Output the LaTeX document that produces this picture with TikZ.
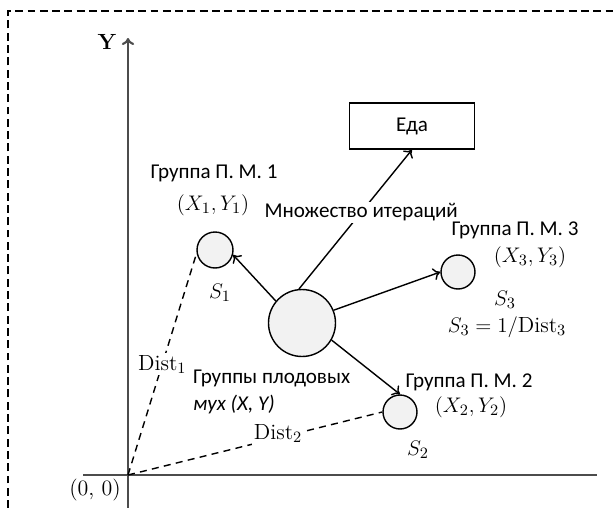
\documentclass[tikz,border=0pt]{standalone}
\usepackage{amsmath}
\usepackage{fontspec}
\usetikzlibrary{arrows.meta}
\newfontfamily\ruf{Carlito}

\tikzset{
    grp/.style={circle, draw, thick, fill=gray!10, inner sep=0pt},
    lbl/.style={font=\ruf\fontsize{12}{15.5}\selectfont},
    mth/.style={font=\fontsize{12.5}{14}\selectfont},
    dist/.style={thick, dash pattern=on 4pt off 3pt},
}

\begin{document}
\begin{tikzpicture}[x=0.02cm, y=-0.02cm, >={To[length=4pt, width=7pt]}]
    \useasboundingbox (0,0) rectangle (613,508);

    % 虚线外框（右边和下边被裁掉）
    \draw[semithick, dash pattern=on 4.5pt off 2.5pt] (8,508) -- (8,11) -- (613,11);

    % 画坐标轴
    \coordinate (O) at (128,475);
    \draw[very thick, black!70] (83,475) -- (597,475);
    \draw[very thick, black!70, ->] (128,508) -- (128,38);
    \node[mth] (ylab) at (107,42) {\textbf{Y}};
    \node[mth] (olab) at (95,490) {(0, 0)};

    % 果蝇群（圆）
    \node[grp, minimum size=1.34cm] (big) at (302,323) {};
    \node[grp, minimum size=0.72cm] (s1) at (215,250) {};
    \node[grp, minimum size=0.68cm] (s3) at (458,272) {};
    \node[grp, minimum size=0.68cm] (s2) at (400,412) {};

    % 食物
    \node[draw, thick, minimum width=2.5cm, minimum height=0.92cm, lbl] (food) at (412,126) {Еда};

    % 箭头
    \draw[->, thick] (big.140) -- (s1.-15);
    \draw[->, thick] (big.22) -- (s3.west);
    \draw[->, thick] (big.-30) -- (s2.north);
    \draw[->, thick] (big.95) -- (food.south)
        node[pos=0.55, lbl, fill=white, inner sep=1pt] (iter) {Множество итераций};

    % 距离（虚线）
    \draw[dist] (O) -- (s1.190)
        node[pos=0.5, mth, fill=white, inner sep=1pt] (d1) {$\mathrm{Dist}_1$};
    \draw[dist] (O) -- (s2.west)
        node[pos=0.59, mth, fill=white, inner sep=1pt, yshift=0.08cm] (d2) {$\mathrm{Dist}_2$};

    % 标注
    \node[lbl] (g1) at (214,173) {Группа П. М. 1};
    \node[mth] (c1) at (213,205) {$(X_1, Y_1)$};
    \node[mth] (l1) at (220,293) {$S_1$};
    \node[lbl] (g3) at (515,230) {Группа П. М. 3};
    \node[mth] (c3) at (530,257) {$(X_3, Y_3)$};
    \node[mth] (l3) at (505,300) {$S_3$};
    \node[mth] (f3) at (507,327) {$S_3 = 1/\mathrm{Dist}_3$};
    \node[lbl] (g2) at (469,382) {Группа П. М. 2};
    \node[mth] (c2) at (471,407) {$(X_2, Y_2)$};
    \node[mth] (l2) at (418,450) {$S_2$};
    \node[lbl, align=left, anchor=west] (fly) at (187,392) {Группы плодовых\\\textit{мух (X, Y)}};
\end{tikzpicture}
\end{document}
